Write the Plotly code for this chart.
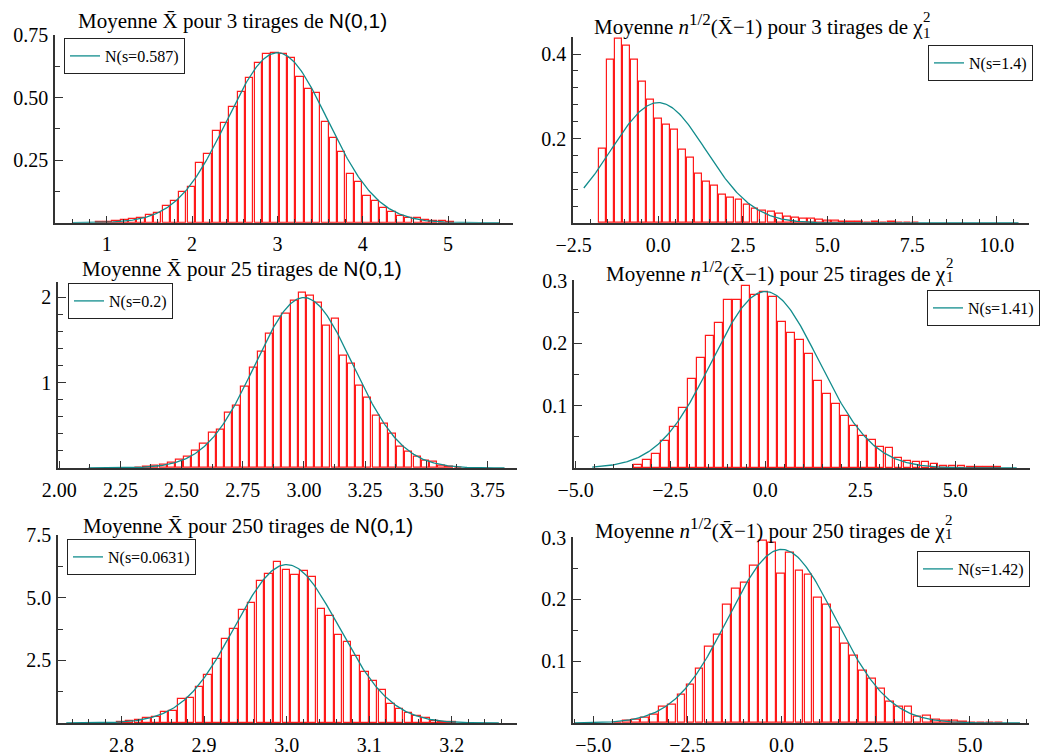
import numpy as np
import plotly.graph_objects as go

# ---------------- histogram data (density per bin) ----------------
# Top-left: mean of 3 draws from N(0,1) (shifted to 3)
norm3_start, norm3_width = 0.864, 0.098
norm3_heights = [0.002, 0.003, 0.005, 0.011, 0.013, 0.019, 0.031, 0.037, 0.068, 0.085,
                 0.124, 0.144, 0.237, 0.276, 0.367, 0.397, 0.461, 0.524, 0.577, 0.637,
                 0.673, 0.680, 0.675, 0.657, 0.581, 0.533, 0.520, 0.404, 0.337, 0.284,
                 0.193, 0.164, 0.107, 0.088, 0.060, 0.044, 0.027, 0.017, 0.017, 0.009,
                 0.007, 0.005, 0.004]

# Top-right: sqrt(n)(mean-1) for 3 draws of chi2(1)
chi3_start, chi3_width = -1.765, 0.237
chi3_heights = [0.176, 0.387, 0.437, 0.420, 0.387, 0.334, 0.291, 0.246, 0.233, 0.222,
                0.174, 0.155, 0.117, 0.097, 0.089, 0.067, 0.059, 0.054, 0.043, 0.034,
                0.028, 0.026, 0.021, 0.014, 0.012, 0.010, 0.010, 0.008, 0.006, 0.005,
                0.003, 0.002, 0.002, 0.001, 0.002, 0.001, 0.002, 0.001, 0.001, 0.001]

# Middle-left: mean of 25 draws
norm25_start, norm25_width = 2.307, 0.0335
norm25_heights = [0.008, 0.020, 0.027, 0.040, 0.066, 0.097, 0.136, 0.207, 0.285, 0.409,
                  0.448, 0.651, 0.733, 0.947, 1.170, 1.357, 1.567, 1.766, 1.805, 1.961,
                  2.047, 2.020, 1.930, 1.665, 1.750, 1.318, 1.220, 0.963, 0.819, 0.616,
                  0.515, 0.398, 0.253, 0.187, 0.129, 0.086, 0.078, 0.027, 0.016, 0.008]

# Middle-right: chi2, 25 draws
chi25_start, chi25_width = -3.465, 0.2364
chi25_heights = [0.005, 0.013, 0.022, 0.043, 0.065, 0.096, 0.143, 0.176, 0.212, 0.232,
                 0.270, 0.269, 0.292, 0.278, 0.282, 0.275, 0.234, 0.216, 0.205, 0.183,
                 0.140, 0.119, 0.102, 0.083, 0.068, 0.051, 0.045, 0.034, 0.032, 0.016,
                 0.012, 0.010, 0.010, 0.006, 0.004, 0.003, 0.004, 0.002, 0.002, 0.001,
                 0.001]

# Bottom-left: mean of 250 draws
norm250_start, norm250_width = 2.794, 0.01055
norm250_heights = [0.03, 0.08, 0.12, 0.20, 0.23, 0.45, 0.48, 0.96, 1.01, 1.44,
                   1.93, 2.56, 3.37, 3.77, 4.53, 4.81, 5.67, 5.93, 6.43, 6.11,
                   5.91, 6.07, 5.81, 4.57, 4.28, 3.51, 3.24, 2.67, 2.04, 1.68,
                   1.31, 0.77, 0.57, 0.40, 0.29, 0.19, 0.08, 0.05, 0.04]

# Bottom-right: chi2, 250 draws
chi250_start, chi250_width = -4.47, 0.2412
chi250_heights = [0.001, 0.003, 0.005, 0.008, 0.013, 0.026, 0.030, 0.046, 0.062, 0.088,
                  0.124, 0.143, 0.191, 0.218, 0.227, 0.255, 0.295, 0.292, 0.242, 0.276,
                  0.246, 0.240, 0.202, 0.192, 0.155, 0.129, 0.109, 0.084, 0.071, 0.056,
                  0.034, 0.027, 0.027, 0.011, 0.012, 0.006, 0.004, 0.003, 0.002, 0.001,
                  0.001, 0.001, 0.001]

# ---------------- fitted normal curves ----------------
fit_means = [3.0, 0.0, 3.0, 0.0, 3.0, 0.0]
fit_sigmas = [0.587, 1.4, 0.2, 1.41, 0.0631, 1.42]
fit_labels = ["N(s=0.587)", "N(s=1.4)", "N(s=0.2)", "N(s=1.41)", "N(s=0.0631)", "N(s=1.42)"]
fit_lo = [0.60, -2.20, 2.12, -4.56, 2.733, -5.49]
fit_hi = [5.60, 10.64, 3.82, 6.62, 3.257, 6.33]

# ---------------- axis ticks ----------------
x_ticks = [[1, 2, 3, 4, 5],
           [-2.5, 0, 2.5, 5, 7.5, 10],
           [2.0, 2.25, 2.5, 2.75, 3.0, 3.25, 3.5, 3.75],
           [-5, -2.5, 0, 2.5, 5],
           [2.8, 2.9, 3.0, 3.1, 3.2],
           [-5, -2.5, 0, 2.5, 5]]
x_fmt = ["{:.0f}", "{:.1f}", "{:.2f}", "{:.1f}", "{:.1f}", "{:.1f}"]
x_minor = [0.2, 0.5, 0.125, 0.5, 0.02, 0.5]
x_ranges = [[0.395, 5.76], [-2.52, 10.95], [1.995, 3.871], [-5.04, 6.97],
            [2.723, 3.279], [-5.54, 6.57]]

y_ticks = [[0.25, 0.5, 0.75], [0.2, 0.4], [1, 2], [0.1, 0.2, 0.3],
           [2.5, 5.0, 7.5], [0.1, 0.2, 0.3]]
y_fmt = ["{:.2f}", "{:.1f}", "{:.0f}", "{:.1f}", "{:.1f}", "{:.1f}"]
y_minor = [0.125, 0.04, 0.2, 0.05, 1.25, 0.05]
y_ranges = [[0, 0.7505], [0, 0.441], [0, 2.18], [0, 0.3015], [0, 7.505], [0, 0.3015]]

panels = [
    (norm3_start, norm3_width, norm3_heights),
    (chi3_start, chi3_width, chi3_heights),
    (norm25_start, norm25_width, norm25_heights),
    (chi25_start, chi25_width, chi25_heights),
    (norm250_start, norm250_width, norm250_heights),
    (chi250_start, chi250_width, chi250_heights),
]

W, H = 1046, 756
# plot-area boxes in pixels: left, right, top, bottom
boxes = [(55, 513, 35, 222.7), (573, 1029, 36.7, 223),
         (58, 517, 281.7, 468), (574, 1030, 280, 468),
         (58, 517, 535, 723), (573, 1029, 536.7, 723)]

SERIF = "Liberation Serif"
SANS = "Liberation Sans"
AX = "#333333"
TEAL = "#118c8c"


def fmt(v, f):
    s = f.format(v)
    return s.replace("-", "\u2212")


fig = go.Figure()
layout = dict(width=W, height=H, margin=dict(l=0, r=0, t=0, b=0, autoexpand=False),
              paper_bgcolor="white", plot_bgcolor="white", showlegend=True,
              font=dict(family=SERIF, size=20, color="black"))

legend_pos = [
    dict(x=64 / W, y=1 - 38 / H, xanchor="left", yanchor="top"),
    dict(x=1033 / W, y=1 - 45 / H, xanchor="right", yanchor="top"),
    dict(x=68 / W, y=1 - 283 / H, xanchor="left", yanchor="top"),
    dict(x=1040 / W, y=1 - 290 / H, xanchor="right", yanchor="top"),
    dict(x=67 / W, y=1 - 539 / H, xanchor="left", yanchor="top"),
    dict(x=1030 / W, y=1 - 551 / H, xanchor="right", yanchor="top"),
]

for i, (start, width, heights) in enumerate(panels):
    k = i + 1
    xa = "x" if k == 1 else f"x{k}"
    ya = "y" if k == 1 else f"y{k}"
    lg = "legend" if k == 1 else f"legend{k}"
    centers = [start + width * (j + 0.5) for j in range(len(heights))]
    fig.add_trace(go.Bar(
        x=centers, y=heights, width=[width * 0.86] * len(heights),
        marker=dict(color="rgba(255,255,255,0)", line=dict(color="#ff1a1a", width=1.2)),
        xaxis=xa, yaxis=ya, showlegend=False, hoverinfo="skip"))
    cx = np.linspace(fit_lo[i], fit_hi[i], 400)
    cy = np.exp(-0.5 * ((cx - fit_means[i]) / fit_sigmas[i]) ** 2) / (fit_sigmas[i] * np.sqrt(2 * np.pi))
    fig.add_trace(go.Scatter(
        x=cx, y=cy, mode="lines", line=dict(color=TEAL, width=1.3),
        name=fit_labels[i], xaxis=xa, yaxis=ya, legend=lg))

    l, r, t, b = boxes[i]
    common = dict(showline=True, linecolor=AX, linewidth=1.5, ticks="inside",
                  tickcolor=AX, tickwidth=1.2, showgrid=False, zeroline=False,
                  tickfont=dict(family=SERIF, size=20, color="black"),
                  tickmode="array", automargin=False)
    layout["xaxis" if k == 1 else f"xaxis{k}"] = dict(
        common, domain=[l / W, r / W], anchor=ya, range=x_ranges[i],
        tickvals=x_ticks[i], ticktext=[fmt(v, x_fmt[i]) for v in x_ticks[i]],
        ticklen=7, ticklabelstandoff=3,
        minor=dict(tickmode="linear", tick0=0, dtick=x_minor[i], ticks="inside",
                   ticklen=4, tickcolor=AX, tickwidth=1, showgrid=False))
    layout["yaxis" if k == 1 else f"yaxis{k}"] = dict(
        common, domain=[1 - b / H, 1 - t / H], anchor=xa, range=y_ranges[i],
        tickvals=y_ticks[i], ticktext=[fmt(v, y_fmt[i]) for v in y_ticks[i]],
        ticklen=8, ticklabelstandoff=1,
        minor=dict(tickmode="linear", tick0=0, dtick=y_minor[i], ticks="inside",
                   ticklen=5, tickcolor=AX, tickwidth=1, showgrid=False))
    layout[lg] = dict(legend_pos[i], bgcolor="white", bordercolor="#222222",
                      borderwidth=1, font=dict(family=SERIF, size=16, color="black"),
                      itemwidth=30, tracegroupgap=0)

# ---------------- panel titles ----------------
xbar = "X\u0304"
annotations = []
left_titles = [("3", 232, 21), ("25", 242, 269), ("250", 248, 526)]
for n, cx, cy in left_titles:
    annotations.append(dict(
        text=f"Moyenne {xbar} pour {n} tirages de <span style=\"font-family:{SANS}\">N(0,1)</span>",
        x=cx / W, y=1 - cy / H, xref="paper", yref="paper", xanchor="center",
        yanchor="middle", showarrow=False, font=dict(family=SERIF, size=21, color="black")))

# right titles end with chi; the stacked 2 / 1 are placed after it
right_titles = [("3", 925, 24, 17, 33), ("25", 948, 271, 263, 277), ("250", 947, 528, 520, 534)]
for n, xr, cy, ysup, ysub in right_titles:
    annotations.append(dict(
        text=(f"Moyenne <i>n</i><sup><span style=\"font-size:17px\">1/2</span></sup>"
              f"({xbar}\u22121) pour {n} tirages de \u03c7"),
        x=xr / W, y=1 - cy / H, xref="paper", yref="paper", xanchor="right",
        yanchor="middle", showarrow=False, font=dict(family=SERIF, size=21, color="black")))
    annotations.append(dict(text="2", x=(xr - 4) / W, y=1 - ysup / H, xref="paper", yref="paper",
                            xanchor="left", yanchor="middle", showarrow=False,
                            font=dict(family=SERIF, size=15, color="black")))
    annotations.append(dict(text="1", x=(xr - 4) / W, y=1 - ysub / H, xref="paper", yref="paper",
                            xanchor="left", yanchor="middle", showarrow=False,
                            font=dict(family=SERIF, size=15, color="black")))

layout["annotations"] = annotations
layout["bargap"] = 0
fig.update_layout(**layout)
fig.write_html("out.html")
